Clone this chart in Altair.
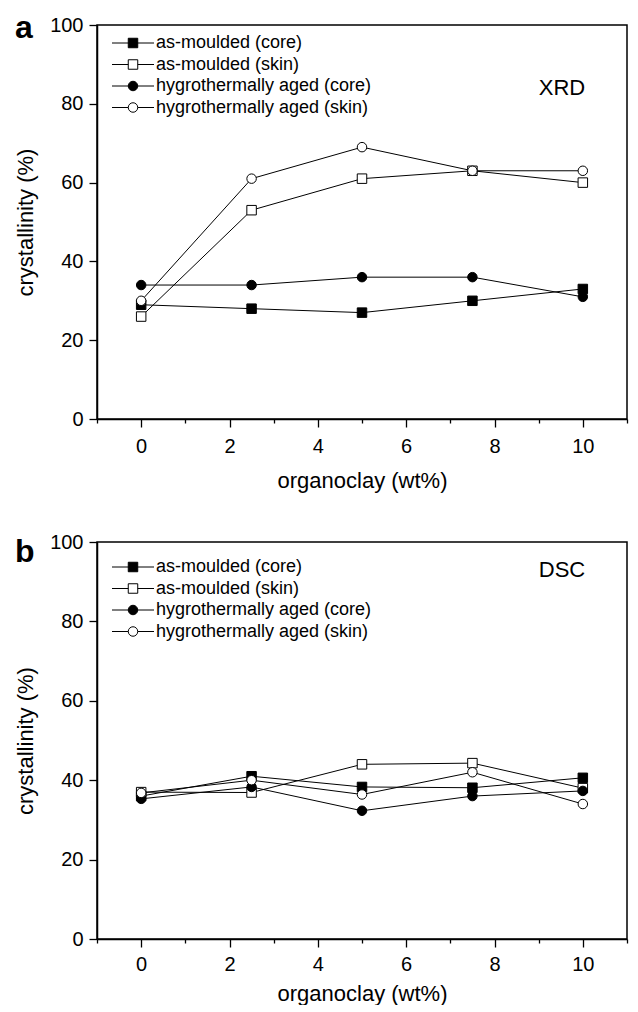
import altair as alt
import pandas as pd

# ---------------- data ----------------
x_vals = [0, 2.5, 5, 7.5, 10]
series_names = [
    "as-moulded (core)",
    "as-moulded (skin)",
    "hygrothermally aged (core)",
    "hygrothermally aged (skin)",
]
shape_range = ["square", "square", "circle", "circle"]
fill_range = ["black", "white", "black", "white"]

# panel a: XRD
xrd_am_core = [29, 28, 27, 30, 33]
xrd_am_skin = [26, 53, 61, 63, 60]
xrd_hy_core = [34, 34, 36, 36, 31]
xrd_hy_skin = [30, 61, 69, 63, 63]

# panel b: DSC
dsc_am_core = [36.0, 41.0, 38.3, 38.1, 40.6]
dsc_am_skin = [37.0, 36.9, 44.0, 44.3, 38.0]
dsc_hy_core = [35.3, 38.3, 32.3, 36.0, 37.3]
dsc_hy_skin = [36.8, 40.0, 36.4, 42.0, 34.0]

x_ticks = list(range(-1, 12))
y_ticks = list(range(0, 101, 10))

FONT = "Liberation Sans"
line_keys = [n + " " for n in series_names]  # separate domain so legends do not merge


def make_panel(vals_list, letter, method, width, height, leg_y, letter_y, method_y,
               label_pad, title_pad):
    rows = []
    for name, key, vals in zip(series_names, line_keys, vals_list):
        for xv, yv in zip(x_vals, vals):
            rows.append({"x": xv, "y": yv, "series": key, "series2": name})
    df = pd.DataFrame(rows)

    xscale = alt.Scale(domain=[-1, 11], nice=False, zero=False)
    yscale = alt.Scale(domain=[0, 100], nice=False)

    xaxis = alt.Axis(
        title="organoclay (wt%)",
        values=x_ticks,
        labelExpr="datum.value % 2 == 0 ? datum.label : ''",
        tickSize={"condition": {"test": "datum.value % 2 == 0", "value": 8}, "value": 4},
        labelPadding=label_pad,
        titlePadding=title_pad,
        labelOverlap=False,
        labelFlush=False,
        grid=False,
    )
    yaxis = alt.Axis(
        title="crystallinity (%)",
        values=y_ticks,
        labelExpr="datum.value % 20 == 0 ? datum.label : ''",
        tickSize={"condition": {"test": "datum.value % 20 == 0", "value": 8}, "value": 4},
        labelPadding=6,
        titlePadding=12,
        labelOverlap=False,
        labelFlush=False,
        grid=False,
    )

    common_leg = dict(
        title=None,
        orient="none",
        legendX=27,
        legendY=leg_y,
        labelFont=FONT,
        labelFontSize=18,
        labelColor="black",
        labelOffset=14,
        labelLimit=0,
        rowPadding=3.5,
        padding=0,
        symbolStrokeWidth=1,
        symbolStrokeColor="black",
    )
    legend_lines = alt.Legend(
        symbolType="M-4.2,0H4.2",
        symbolSize=100,
        symbolFillColor="transparent",
        labelOpacity=0,
        zindex=1,
        **common_leg,
    )
    legend_pts = alt.Legend(symbolSize=90, zindex=2, **common_leg)

    lines = alt.Chart(df).mark_line(strokeWidth=1).encode(
        x=alt.X("x:Q", scale=xscale, axis=xaxis),
        y=alt.Y("y:Q", scale=yscale, axis=yaxis),
        color=alt.Color(
            "series:N",
            scale=alt.Scale(domain=line_keys, range=["black"] * 4),
            legend=legend_lines,
        ),
    )
    points = alt.Chart(df).mark_point(
        filled=True, size=90, strokeWidth=1, opacity=1
    ).encode(
        x=alt.X("x:Q", scale=xscale),
        y=alt.Y("y:Q", scale=yscale),
        shape=alt.Shape(
            "series2:N",
            scale=alt.Scale(domain=series_names, range=shape_range),
            legend=legend_pts,
        ),
        fill=alt.Fill(
            "series2:N",
            scale=alt.Scale(domain=series_names, range=fill_range),
            legend=legend_pts,
        ),
        stroke=alt.Stroke(
            "series2:N",
            scale=alt.Scale(domain=series_names, range=["black"] * 4),
            legend=legend_pts,
        ),
    )
    letter_txt = alt.Chart(pd.DataFrame({"t": [letter]})).mark_text(
        font=FONT, fontSize=32, fontWeight="bold", align="left",
        baseline="middle", color="black",
    ).encode(x=alt.value(-82), y=alt.value(letter_y), text="t:N")
    method_txt = alt.Chart(pd.DataFrame({"t": [method]})).mark_text(
        font=FONT, fontSize=22, align="center", baseline="middle", color="black",
    ).encode(x=alt.value(465), y=alt.value(method_y), text="t:N")

    return alt.layer(lines, points, letter_txt, method_txt).properties(
        width=width, height=height
    )


panel_a = make_panel(
    [xrd_am_core, xrd_am_skin, xrd_hy_core, xrd_hy_skin],
    "a", "XRD", 530, 394, leg_y=9, letter_y=3, method_y=63,
    label_pad=9, title_pad=14,
)
panel_b = make_panel(
    [dsc_am_core, dsc_am_skin, dsc_hy_core, dsc_hy_skin],
    "b", "DSC", 530, 397, leg_y=16, letter_y=10, method_y=28,
    label_pad=7, title_pad=9,
)

chart = (
    alt.vconcat(panel_a, panel_b, spacing=39)
    .resolve_scale(color="independent", shape="independent", fill="independent",
                   stroke="independent")
    .properties(padding={"left": 5, "top": 3, "right": 0, "bottom": 0})
    .configure_view(stroke="black", strokeWidth=1.5)
    .configure_axis(
        domainColor="black",
        domainWidth=1.5,
        tickColor="black",
        tickWidth=1.3,
        labelFont=FONT,
        labelFontSize=20,
        labelColor="black",
        titleFont=FONT,
        titleFontSize=22,
        titleFontWeight="normal",
        titleColor="black",
    )
)

chart.save("out.html", embed_options={"renderer": "svg", "actions": False})
